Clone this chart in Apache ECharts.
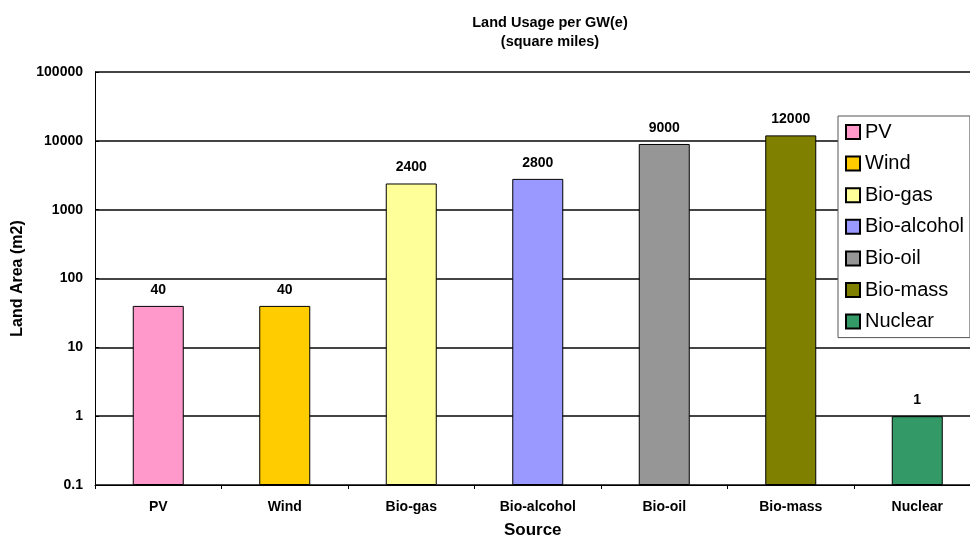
<!DOCTYPE html>
<html>
<head>
<meta charset="utf-8">
<script src="https://cdn.jsdelivr.net/npm/echarts@6/dist/echarts.min.js"></script>
<style>
  html, body { margin: 0; padding: 0; background: #fff; }
  #chart { width: 970px; height: 542px; }
</style>
</head>
<body>
<div id="chart"></div>
<script>
// Land area needed per GW(e), by energy source
const categories = ['PV', 'Wind', 'Bio-gas', 'Bio-alcohol', 'Bio-oil', 'Bio-mass', 'Nuclear'];
const landArea = [40, 40, 2400, 2800, 9000, 12000, 1];
const barColors = ['#FF99CC', '#FFCC00', '#FFFF99', '#9999FF', '#969696', '#808000', '#339966'];
const yTicks = [0.1, 1, 10, 100, 1000, 10000, 100000];

const FONT = 'Liberation Sans, Arial, sans-serif';

// One series per source so each gets its own colour and legend entry;
// all share the same slot so the bar sits centred in its category.
const series = categories.map((name, i) => ({
  name: name,
  type: 'bar',
  barWidth: 51,
  barGap: '-100%',
  data: categories.map((_, j) => (j === i ? landArea[i] : '-')),
  itemStyle: { color: barColors[i], borderColor: '#000', borderWidth: 1 },
  label: {
    show: true,
    position: 'top',
    distance: 9,
    color: '#000',
    fontFamily: FONT,
    fontWeight: 'bold',
    fontSize: 14
  },
  z: 3
}));

const chart = echarts.init(document.getElementById('chart'), null, { renderer: 'canvas' });
chart.setOption({
  animation: false,
  backgroundColor: '#fff',
  title: {
    text: 'Land Usage per GW(e)\n(square miles)',
    left: 545,
    textAlign: 'center',
    top: 8,
    textStyle: {
      fontFamily: FONT,
      fontWeight: 'bold',
      fontSize: 14.5,
      lineHeight: 19,
      color: '#000'
    }
  },
  legend: {
    orient: 'vertical',
    left: 838,
    top: 116,
    padding: [6, 6, 6, 7],
    icon: 'rect',
    itemWidth: 14,
    itemHeight: 14,
    itemGap: 11.6,
    backgroundColor: '#fff',
    borderColor: '#555',
    borderWidth: 1,
    data: categories,
    textStyle: {
      fontFamily: FONT,
      fontSize: 20,
      lineHeight: 20,
      color: '#000'
    },
    z: 10
  },
  // the plot runs a little past the right edge of the canvas
  grid: {
    left: 95,
    width: 885.5,
    top: 72,
    bottom: 57,
    containLabel: false,
    outerBoundsMode: 'none'
  },
  xAxis: {
    type: 'category',
    data: categories,
    name: 'Source',
    nameLocation: 'middle',
    nameGap: 37,
    nameTextStyle: {
      fontFamily: FONT,
      fontWeight: 'bold',
      fontSize: 17,
      color: '#000',
      padding: [0, 10, 0, 0]
    },
    axisLine: { lineStyle: { color: '#000', width: 1 } },
    axisTick: { show: true, alignWithLabel: false, length: 4, lineStyle: { color: '#000' } },
    axisLabel: {
      margin: 15,
      fontFamily: FONT,
      fontWeight: 'bold',
      fontSize: 14,
      color: '#000'
    },
    splitLine: { show: false }
  },
  yAxis: {
    type: 'log',
    logBase: 10,
    min: yTicks[0],
    max: yTicks[yTicks.length - 1],
    startValue: yTicks[0],
    name: 'Land Area (m2)',
    nameLocation: 'middle',
    nameGap: 64,
    nameRotate: 90,
    nameTextStyle: {
      fontFamily: FONT,
      fontWeight: 'bold',
      fontSize: 16,
      color: '#000'
    },
    axisLine: { show: true, lineStyle: { color: '#000', width: 1 } },
    axisTick: { show: true, inside: true, length: 4, lineStyle: { color: '#000' } },
    axisLabel: {
      margin: 12,
      fontFamily: FONT,
      fontWeight: 'bold',
      fontSize: 14,
      color: '#000',
      formatter: v => {
        const t = yTicks.find(x => Math.abs(Math.log10(x) - Math.log10(v)) < 1e-6);
        return String(t !== undefined ? t : v);
      }
    },
    splitLine: { show: true, lineStyle: { color: '#444', width: 2 } },
    minorTick: { show: false }
  },
  series: series
});
</script>
</body>
</html>
